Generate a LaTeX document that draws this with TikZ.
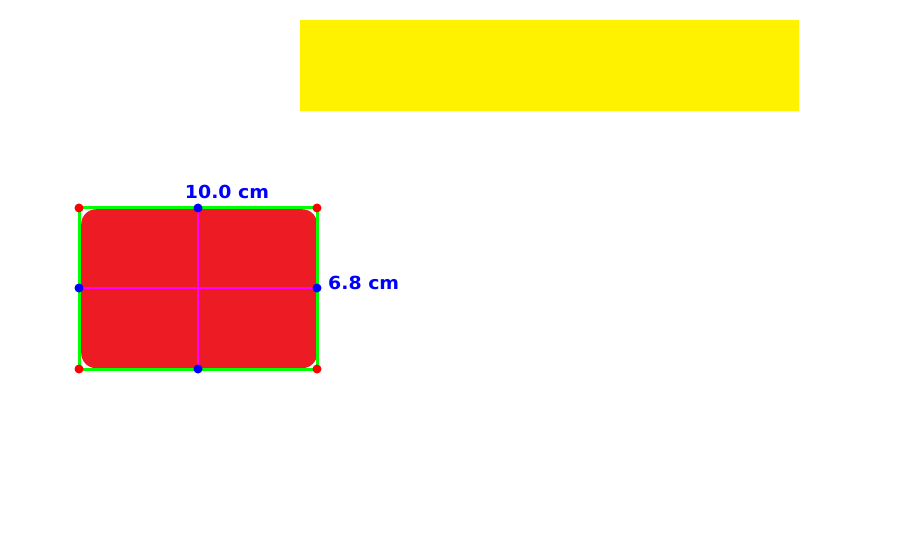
\documentclass[tikz,border=0pt]{standalone}
\usepackage{fontspec}
\newfontfamily\lblfont{DejaVu Sans}
\definecolor{yel}{HTML}{FFF200}
\definecolor{redf}{HTML}{ED1C24}
\definecolor{grn}{HTML}{00FF00}
\definecolor{mag}{HTML}{FF00FF}
\definecolor{blu}{HTML}{0000FF}
\definecolor{dotred}{HTML}{FF0000}
\tikzset{
  bbox/.style={draw=grn, line width=3pt},
  axisline/.style={draw=mag, line width=2pt},
  cornerdot/.style={fill=dotred},
  middot/.style={fill=blu},
  dimlabel/.style={text=blu, inner sep=0pt, font=\lblfont\bfseries\fontsize{18}{18}\selectfont}
}
\begin{document}
\begin{tikzpicture}[x=1pt,y=-1pt]
\useasboundingbox (0,0) rectangle (909,537);
% yellow bar
\node[fill=yel, inner sep=0pt, minimum width=499pt, minimum height=91pt, anchor=north west] (ybar) at (300,20) {};
% red rounded rectangle
\node[fill=redf, rounded corners=15pt, inner sep=0pt, minimum width=236pt, minimum height=159pt, anchor=north west] (rbox) at (81,209) {};
% corner and midpoint coordinates
\coordinate (tl) at (79,208);
\coordinate (tr) at (317,208);
\coordinate (bl) at (79,369);
\coordinate (br) at (317,369);
\coordinate (tm) at (198,208);
\coordinate (bm) at (198,369);
\coordinate (lm) at (79,288);
\coordinate (rm) at (317,288);
\draw[bbox] (tl) rectangle (br);
\draw[axisline] (tm) -- (bm);
\draw[axisline] (lm) -- (rm);
\foreach \c in {tl,tr,bl,br} \fill[cornerdot] (\c) circle (4.5);
\foreach \c in {tm,bm,lm,rm} \fill[middot] (\c) circle (4.5);
\node[dimlabel] (wlabel) at (227,192) {\scalebox{1.05}[1]{10.0 cm}};
\node[dimlabel, anchor=west] (hlabel) at (328,283) {\scalebox{1.05}[1]{6.8 cm}};
\end{tikzpicture}
\end{document}
